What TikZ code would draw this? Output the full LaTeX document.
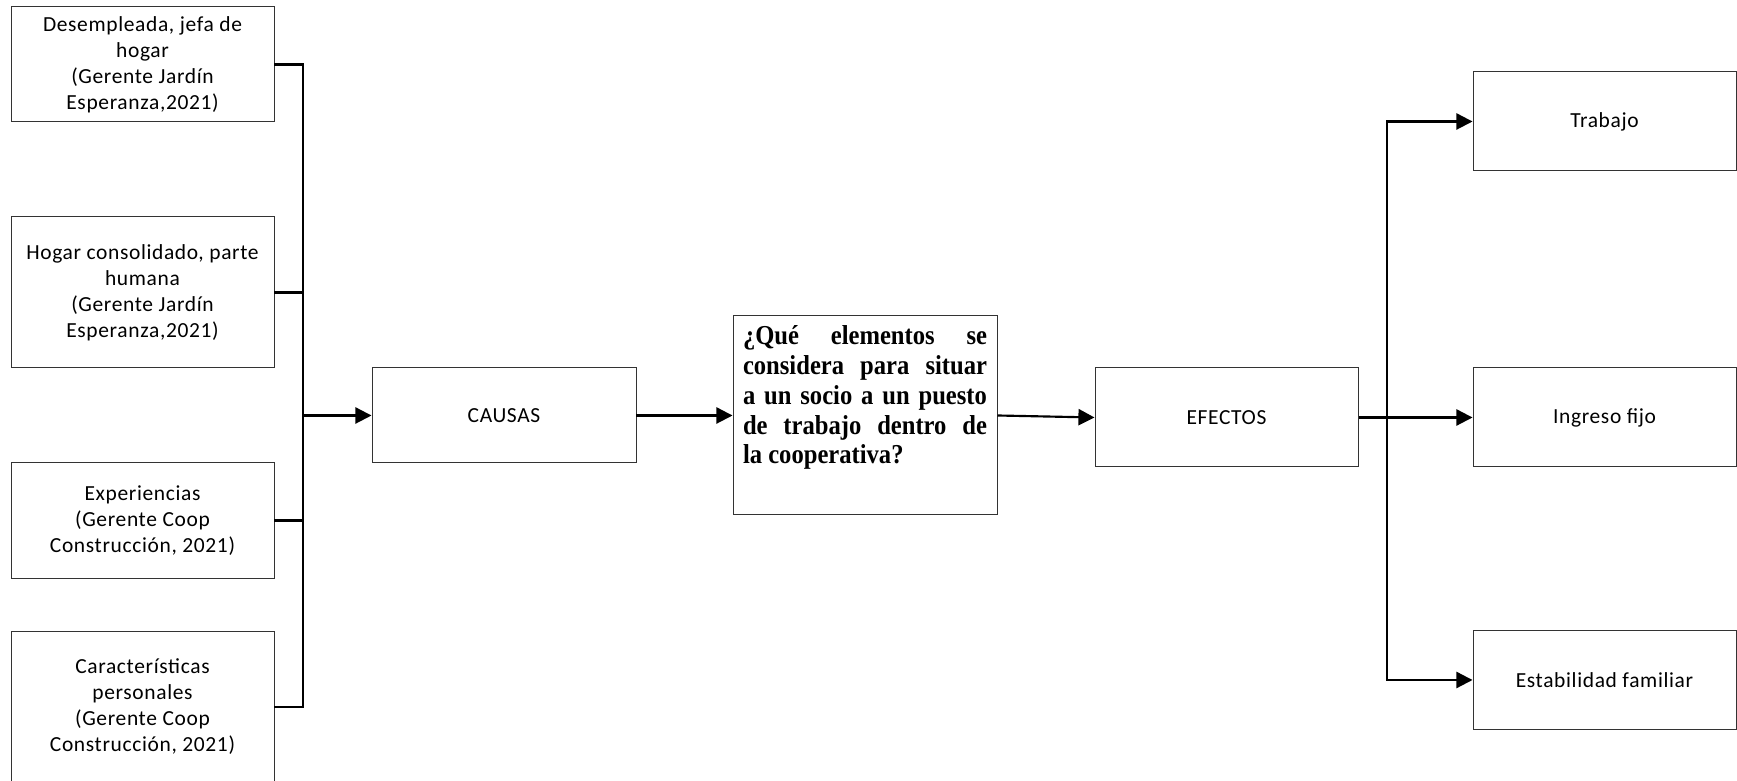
\documentclass[tikz,border=0pt]{standalone}
\usepackage{fontspec}
\setmainfont{Carlito}[LetterSpace=3]
\newfontfamily\qfont{Liberation Serif}[FakeStretch=0.9]
\usepackage{tikz}
\usepackage{xcolor}
\usetikzlibrary{arrows.meta}

\begin{document}
\begin{tikzpicture}[
    box/.style={draw=black!80, line width=0.5pt, minimum width=4.734cm, align=center, inner sep=2pt, font=\fontsize{11}{13.3}\selectfont},
    link/.style={line width=1.1pt},
    arr/.style={link, -{Triangle[length=0.29cm, width=0.29cm]}}
]
    \useasboundingbox (0,0) rectangle (31.266,14.058);

    % Cause nodes
    \node[box, minimum height=2.07cm] (c1) at (2.565,12.897) {Desempleada, jefa de\\hogar\\(Gerente Jardín\\Esperanza,2021)};
    \node[box, minimum height=2.718cm] (c2) at (2.565,8.793) {Hogar consolidado, parte\\humana\\(Gerente Jardín\\Esperanza,2021)};
    \node[box, minimum height=2.07cm] (c3) at (2.565,4.689) {Experiencias\\(Gerente Coop\\Construcción, 2021)};
    \node[box, minimum height=2.736cm] (c4) at (2.565,1.332) {Características\\personales\\(Gerente Coop\\Construcción, 2021)};

    % Middle
    \node[box, minimum width=4.752cm, minimum height=1.71cm] (causas) at (9.072,6.579) {CAUSAS};
    \node[box, minimum width=4.752cm, inner sep=0.18cm] (question) at (15.57,6.588)
        {\parbox[c][3.222cm][t]{4.392cm}{\qfont\bfseries\fontsize{14}{15.3}\selectfont\hyphenpenalty=10000
        ¿Qué elementos se\linebreak considera para situar\linebreak a un socio a un puesto\linebreak de trabajo dentro de\linebreak la cooperativa?}};
    \node[box, minimum height=1.782cm] (efectos) at (22.077,6.543) {EFECTOS};

    % Effect nodes
    \node[box, minimum height=1.782cm] (trabajo) at (28.881,11.871) {Trabajo};
    \node[box, minimum height=1.782cm] (ingreso) at (28.881,6.543) {Ingreso fijo};
    \node[box, minimum height=1.782cm] (estab) at (28.881,1.818) {Estabilidad familiar};

    % Junctions
    \coordinate (ltrunk) at (5.454,6.579);
    \coordinate (rtrunk) at (24.966,6.543);

    % Edges
    \draw[link] (c1.east) -| (ltrunk);
    \draw[link] (c2.east) -| (ltrunk);
    \draw[link] (c3.east) -| (ltrunk);
    \draw[link] (c4.east) -| (ltrunk);
    \draw[arr] (ltrunk) -- (causas.west);
    \draw[arr] (causas.east) -- (question.west |- causas.east);
    \draw[arr] (question.east |- causas.east) -- (efectos.west);
    \draw[link] (efectos.east) -- (rtrunk);
    \draw[arr] (rtrunk) |- (trabajo.west);
    \draw[arr] (rtrunk) -- (ingreso.west);
    \draw[arr] (rtrunk) |- (estab.west);
\end{tikzpicture}
\end{document}
